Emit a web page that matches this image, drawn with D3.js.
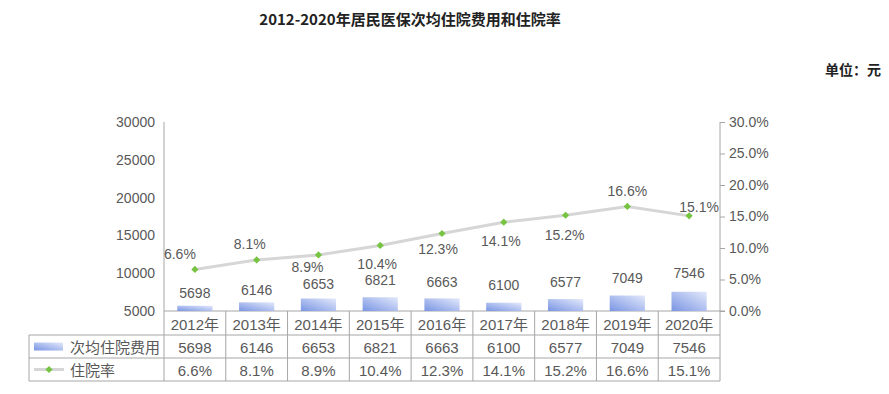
<!DOCTYPE html>
<html><head><meta charset="utf-8">
<script src="https://cdn.jsdelivr.net/npm/d3@7"></script>
<style>
html,body{margin:0;padding:0;background:#fff;}
svg{display:block;}
</style></head>
<body>
<script>
const years = ["2012年","2013年","2014年","2015年","2016年","2017年","2018年","2019年","2020年"];
const costs = [5698,6146,6653,6821,6663,6100,6577,7049,7546];
const rates = [6.6,8.1,8.9,10.4,12.3,14.1,15.2,16.6,15.1];
const leftTicks = [5000,10000,15000,20000,25000,30000];
const rightTicks = [0,5,10,15,20,25,30];
const seriesNames = ["次均住院费用","住院率"];
const title = "2012-2020年居民医保次均住院费用和住院率";
const unitText = "单位：元";
// label placement offsets (layout only)
const barLabelDy = [-13,-12,-15,-17,-16,-18,-17,-18,-19];
const rateLabelDx = [-15,-7,-11,-3,-4,-3,-1,0,10];
const rateLabelDy = [-15,-16,12,19,15,19,20,-15,-9];

(function(){
const W = 889, H = 394;
const pLeft = 164, pRight = 720, pTop = 122, base = 311;
const rowH = [24, 23, 23];
const tableLeft = 29;
const font = "'Liberation Sans', Arial, 'Noto Sans CJK SC', sans-serif";
const textCol = "#595959", gridCol = "#a6a6a6";

const svg = d3.select("body").append("svg").attr("width", W).attr("height", H);
const defs = svg.append("defs");
const grad = defs.append("linearGradient").attr("id","barGrad")
  .attr("x1","0").attr("y1","1").attr("x2","1").attr("y2","0");
grad.append("stop").attr("offset","0%").attr("stop-color","#7a95e3");
grad.append("stop").attr("offset","100%").attr("stop-color","#e3e9fb");

const x = d3.scaleBand().domain(years).range([pLeft, pRight]).paddingInner(0.43).paddingOuter(0.215);
const xc = d => x(d) + x.bandwidth()/2;
const yL = d3.scaleLinear().domain([5000,30000]).range([base, pTop]);
const yR = d3.scaleLinear().domain([0,30]).range([base, pTop]);

// title
svg.append("text").attr("x", 410).attr("y", 25).attr("text-anchor","middle")
  .attr("font-family","'Noto Sans CJK SC', sans-serif").attr("font-weight","bold")
  .attr("font-size",15).attr("fill","#222").text(title);
svg.append("text").attr("x", 881).attr("y", 75).attr("text-anchor","end")
  .attr("font-family","'Noto Sans CJK SC', sans-serif").attr("font-weight","bold")
  .attr("font-size",14).attr("fill","#222").text(unitText);

// left axis
const gL = svg.append("g").attr("transform",`translate(${pLeft},0)`)
  .call(d3.axisLeft(yL).tickValues(leftTicks).tickSize(0).tickPadding(9).tickFormat(d3.format("d")));
gL.select(".domain").remove();
gL.selectAll("text").attr("font-family",font).attr("font-size",14).attr("fill",textCol);
svg.append("line").attr("x1",pLeft).attr("x2",pLeft).attr("y1",pTop).attr("y2",base+rowH[0]+rowH[1]+rowH[2])
  .attr("stroke",gridCol);

// right axis
const gR = svg.append("g").attr("transform",`translate(${pRight},0)`)
  .call(d3.axisRight(yR).tickValues(rightTicks).tickSize(5).tickPadding(4).tickFormat(d => d.toFixed(1)+"%"));
gR.select(".domain").attr("stroke",gridCol).attr("d",`M0,${pTop}V${base}`);
gR.selectAll(".tick line").attr("stroke",gridCol);
gR.selectAll("text").attr("font-family",font).attr("font-size",14).attr("fill",textCol);

// baseline
svg.append("line").attr("x1",pLeft).attr("x2",pRight+5).attr("y1",base).attr("y2",base).attr("stroke",gridCol);

// bars
svg.append("g").selectAll("rect").data(costs).join("rect")
  .attr("x",(d,i)=>x(years[i])).attr("width",x.bandwidth())
  .attr("y",d=>yL(d)).attr("height",d=>base-yL(d)).attr("fill","url(#barGrad)");
svg.append("g").selectAll("text").data(costs).join("text")
  .attr("x",(d,i)=>xc(years[i])).attr("y",(d,i)=>yL(d)+barLabelDy[i])
  .attr("text-anchor","middle").attr("dominant-baseline","central")
  .attr("font-family",font).attr("font-size",14).attr("fill",textCol).text(d=>d);

// line
const line = d3.line().x((d,i)=>xc(years[i])).y(d=>yR(d));
svg.append("path").datum(rates).attr("d",line).attr("fill","none")
  .attr("stroke","#d6d6d6").attr("stroke-width",3);
const diamond = d3.symbol().type(d3.symbolSquare).size(26);
svg.append("g").selectAll("path").data(rates).join("path")
  .attr("d",diamond).attr("transform",(d,i)=>`translate(${xc(years[i])},${yR(d)}) rotate(45)`)
  .attr("fill","#76c442");
svg.append("g").selectAll("text").data(rates).join("text")
  .attr("x",(d,i)=>xc(years[i])+rateLabelDx[i]).attr("y",(d,i)=>yR(d)+rateLabelDy[i])
  .attr("text-anchor","middle").attr("dominant-baseline","central")
  .attr("font-family",font).attr("font-size",14).attr("fill",textCol).text(d=>d.toFixed(1)+"%");

// data table
const r0 = base, r1 = base+rowH[0], r2 = r1+rowH[1], r3 = r2+rowH[2];
const tb = svg.append("g").attr("stroke",gridCol).attr("fill","none");
tb.append("line").attr("x1",pRight).attr("x2",pRight).attr("y1",r0).attr("y2",r3);
years.forEach((y,i)=>{ if(i>0){ const bx = x(y)-x.step()*x.paddingInner()/2; tb.append("line").attr("x1",bx).attr("x2",bx).attr("y1",r0).attr("y2",r3);} });
[r1,r2,r3].forEach(yy=>tb.append("line").attr("x1",tableLeft).attr("x2",pRight).attr("y1",yy).attr("y2",yy));
tb.append("line").attr("x1",tableLeft).attr("x2",tableLeft).attr("y1",r1).attr("y2",r3);

const tt = svg.append("g").attr("font-family",font).attr("font-size",15).attr("fill",textCol)
  .attr("text-anchor","middle").attr("dominant-baseline","central");
years.forEach((y,i)=>{
  tt.append("text").attr("x",xc(y)).attr("y",(r0+r1)/2+1).text(y);
  tt.append("text").attr("x",xc(y)).attr("y",(r1+r2)/2+1).text(costs[i]);
  tt.append("text").attr("x",xc(y)).attr("y",(r2+r3)/2+1).text(rates[i].toFixed(1)+"%");
});
// legend keys
svg.append("rect").attr("x",34).attr("y",(r1+r2)/2-4).attr("width",29).attr("height",8).attr("fill","url(#barGrad)");
svg.append("line").attr("x1",34).attr("x2",64).attr("y1",(r2+r3)/2).attr("y2",(r2+r3)/2).attr("stroke","#d6d6d6").attr("stroke-width",3);
svg.append("path").attr("d",diamond).attr("transform",`translate(49,${(r2+r3)/2}) rotate(45)`).attr("fill","#76c442");
svg.append("text").attr("x",70).attr("y",(r1+r2)/2+1).attr("dominant-baseline","central")
  .attr("font-family",font).attr("font-size",15).attr("fill",textCol).text(seriesNames[0]);
svg.append("text").attr("x",70).attr("y",(r2+r3)/2+1).attr("dominant-baseline","central")
  .attr("font-family",font).attr("font-size",15).attr("fill",textCol).text(seriesNames[1]);
})();
</script>
</body></html>
